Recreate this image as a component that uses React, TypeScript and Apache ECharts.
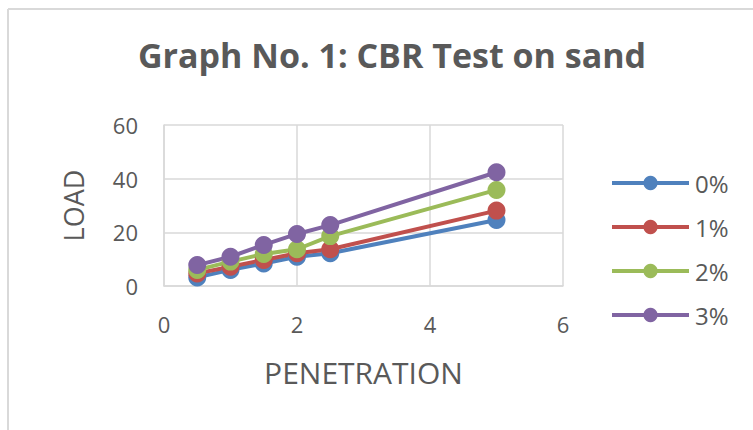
import React, { useEffect, useRef } from "react";
import * as echarts from "echarts";

const penetration = [0.5, 1, 1.5, 2, 2.5, 5];
const load0 = [3.2, 6.0, 8.4, 10.9, 12.2, 24.6];
const load1 = [4.7, 7.2, 9.7, 12.2, 13.7, 28.1];
const load2 = [6.0, 9.1, 11.9, 13.7, 18.6, 35.8];
const load3 = [7.8, 10.9, 15.3, 19.4, 22.7, 42.4];
const seriesNames = ["0%", "1%", "2%", "3%"];
const seriesColors = ["#4F81BD", "#C0504D", "#9BBB59", "#8064A2"];

const FONT = "'Open Sans', Lato, sans-serif";
const TXT = "#595959";

export default function App() {
  const ref = useRef<HTMLDivElement>(null);
  useEffect(() => {
    if (!ref.current) return;
    const chart = echarts.init(ref.current, undefined, { renderer: "svg" });
    const all = [load0, load1, load2, load3];
    chart.setOption({
      animation: false,
      backgroundColor: "#ffffff",
      title: {
        text: "Graph No. 1: CBR Test on sand",
        left: 387,
        textAlign: "center",
        top: 33,
        textStyle: { fontFamily: FONT, fontWeight: "bold", fontSize: 34, color: TXT },
      },
      legend: {
        orient: "vertical",
        left: 605,
        top: 166,
        itemWidth: 77,
        itemHeight: 18,
        itemGap: 20,
        lineStyle: { width: 4 },
        textStyle: { fontFamily: FONT, fontSize: 24, color: TXT, padding: [0, 0, 0, 1] },
        data: seriesNames,
      },
      grid: { left: 164, right: 190, top: 125, bottom: 144, containLabel: false },
      xAxis: {
        type: "value",
        min: 0,
        max: 6,
        interval: 2,
        name: "PENETRATION",
        nameLocation: "middle",
        nameGap: 71,
        nameTextStyle: { fontFamily: FONT, fontSize: 30, color: TXT },
        axisLine: { show: true, lineStyle: { color: "#d9d9d9", width: 1.5 } },
        axisTick: { show: false },
        axisLabel: { fontFamily: FONT, fontSize: 22, color: TXT, margin: 27 },
        splitLine: { show: true, lineStyle: { color: "#d9d9d9", width: 1.5 } },
      },
      yAxis: {
        type: "value",
        min: 0,
        max: 60,
        interval: 20,
        name: "LOAD",
        nameLocation: "middle",
        nameGap: 77,
        nameTextStyle: { fontFamily: FONT, fontSize: 27, color: TXT },
        axisLine: { show: true, lineStyle: { color: "#d9d9d9", width: 1.5 } },
        axisTick: { show: false },
        axisLabel: { fontFamily: FONT, fontSize: 22, color: TXT, margin: 26 },
        splitLine: { show: true, lineStyle: { color: "#d9d9d9", width: 1.5 } },
      },
      series: seriesNames.map((name, i) => ({
        name,
        type: "line",
        data: penetration.map((x, j) => [x, all[i][j]]),
        symbol: "circle",
        symbolSize: 18,
        lineStyle: { width: 4, color: seriesColors[i] },
        itemStyle: { color: seriesColors[i] },
      })),
      graphic: [
        { type: "line", shape: { x1: 8, y1: 9, x2: 753, y2: 9 }, style: { stroke: "#d9d9d9", lineWidth: 2 } },
        { type: "line", shape: { x1: 8, y1: 9, x2: 8, y2: 430 }, style: { stroke: "#d9d9d9", lineWidth: 2 } },
      ],
    });
    return () => chart.dispose();
  }, []);
  return (
    <div
      ref={ref}
      style={{ position: "fixed", left: 0, top: 0, width: 753, height: 430 }}
    />
  );
}
